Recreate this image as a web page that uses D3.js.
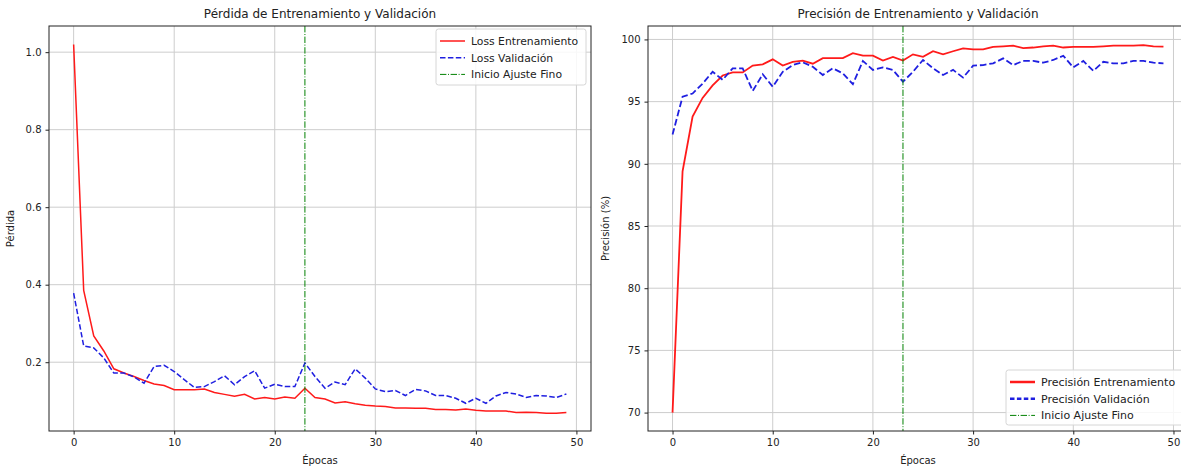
<!DOCTYPE html>
<html><head><meta charset="utf-8">
<script src="https://cdn.jsdelivr.net/npm/d3@7"></script>
<style>body{margin:0;background:#fff}svg{display:block;font-family:"DejaVu Sans",sans-serif}</style>
</head><body><svg id="c" width="1181" height="467"></svg>
<script>
const epochs = d3.range(0, 50);
const lossTrain = [1.02,0.385,0.268,0.229,0.183,0.172,0.163,0.153,0.144,0.140,0.129,0.129,0.129,0.131,0.122,0.117,0.112,0.117,0.105,0.109,0.105,0.110,0.107,0.133,0.109,0.105,0.095,0.098,0.093,0.089,0.087,0.086,0.082,0.082,0.081,0.081,0.078,0.078,0.077,0.079,0.076,0.074,0.074,0.074,0.070,0.071,0.070,0.068,0.068,0.070];
const lossVal = [0.378,0.242,0.237,0.211,0.172,0.172,0.162,0.146,0.189,0.192,0.176,0.155,0.135,0.137,0.150,0.165,0.142,0.163,0.178,0.133,0.143,0.137,0.137,0.198,0.163,0.133,0.149,0.142,0.183,0.159,0.131,0.124,0.127,0.114,0.130,0.126,0.114,0.114,0.107,0.094,0.107,0.094,0.113,0.122,0.118,0.109,0.114,0.113,0.109,0.118];
const accTrain = [70.0,89.4,93.8,95.3,96.3,97.1,97.35,97.35,97.9,98.0,98.4,97.9,98.2,98.3,98.05,98.5,98.5,98.5,98.9,98.7,98.7,98.3,98.6,98.3,98.8,98.6,99.05,98.8,99.05,99.28,99.2,99.2,99.4,99.45,99.5,99.3,99.35,99.45,99.5,99.35,99.4,99.4,99.4,99.45,99.5,99.5,99.5,99.55,99.45,99.42];
const accVal = [92.35,95.4,95.65,96.45,97.4,96.75,97.68,97.68,95.86,97.2,96.2,97.4,97.94,98.16,97.8,97.14,97.68,97.27,96.4,98.27,97.55,97.75,97.55,96.6,97.4,98.35,97.68,97.14,97.55,96.93,97.89,97.94,98.08,98.48,97.94,98.27,98.27,98.13,98.35,98.69,97.75,98.27,97.47,98.2,98.08,98.08,98.27,98.27,98.13,98.08];
const fineTuneEpoch = 23;
const xTicks = [0,10,20,30,40,50];
const lossTicks = [0.2,0.4,0.6,0.8,1.0];
const accTicks = [70,75,80,85,90,95,100];

const svg = d3.select("#c");
svg.append("rect").attr("width",1181).attr("height",467).attr("fill","#fff");

function panel(opt){
  const {x0,x1,y0,y1,ydom,yticks,yfmt,title,ylabel,ylabelX,trainData,valData,legend,lw,dash} = opt;
  const g = svg.append("g");
  const x = d3.scaleLinear().domain([-2.45,51.45]).range([x0,x1]);
  const y = d3.scaleLinear().domain(ydom).range([y1,y0]);
  const clipId = "clip"+x0;
  g.append("clipPath").attr("id",clipId).append("rect").attr("x",x0).attr("y",y0).attr("width",x1-x0).attr("height",y1-y0);
  const grid = g.append("g").attr("stroke","#cdcdcd").attr("stroke-width",1);
  xTicks.forEach(t=>grid.append("line").attr("x1",x(t)).attr("x2",x(t)).attr("y1",y0).attr("y2",y1));
  yticks.forEach(t=>grid.append("line").attr("x1",x0).attr("x2",x1).attr("y1",y(t)).attr("y2",y(t)));
  const plot = g.append("g").attr("clip-path",`url(#${clipId})`);
  const line = d3.line().x((d,i)=>x(epochs[i])).y(d=>y(d));
  plot.append("path").datum(trainData).attr("d",line).attr("fill","none").attr("stroke","#ff1a1a").attr("stroke-width",lw);
  plot.append("path").datum(valData).attr("d",line).attr("fill","none").attr("stroke","#1f1fe0").attr("stroke-width",lw).attr("stroke-dasharray",dash);
  plot.append("line").attr("x1",x(fineTuneEpoch)).attr("x2",x(fineTuneEpoch)).attr("y1",y0).attr("y2",y1)
    .attr("stroke","#008000").attr("stroke-width",1).attr("stroke-dasharray","6.4,1.6,1,1.6");
  const xa = g.append("g").attr("transform",`translate(0,${y1})`).call(d3.axisBottom(x).tickValues(xTicks).tickSize(3.5).tickPadding(4).tickFormat(d3.format("d")));
  const ya = g.append("g").attr("transform",`translate(${x0},0)`).call(d3.axisLeft(y).tickValues(yticks).tickSize(3.5).tickPadding(4).tickFormat(yfmt));
  [xa,ya].forEach(a=>{a.select(".domain").remove();a.selectAll("text").attr("font-size",10).attr("fill","#222").attr("font-family","DejaVu Sans");a.selectAll("line").attr("stroke","#222");});
  g.append("rect").attr("x",x0).attr("y",y0).attr("width",x1-x0).attr("height",y1-y0).attr("fill","none").attr("stroke","#222").attr("stroke-width",1);
  g.append("text").attr("x",(x0+x1)/2).attr("y",18).attr("text-anchor","middle").attr("font-size",12).attr("fill","#222").text(title);
  g.append("text").attr("x",(x0+x1)/2).attr("y",464).attr("text-anchor","middle").attr("font-size",10).attr("fill","#222").text("Épocas");
  g.append("text").attr("transform",`translate(${ylabelX},${(y0+y1)/2}) rotate(-90)`).attr("text-anchor","middle").attr("font-size",10).attr("fill","#222").text(ylabel);
  const L = legend;
  const lg = g.append("g");
  lg.append("rect").attr("x",L.x).attr("y",L.y).attr("width",L.w).attr("height",L.h).attr("rx",2.5)
    .attr("fill","#fff").attr("fill-opacity",0.85).attr("stroke","#d6d6d6");
  const items = [
    {label:L.labels[0],color:"#ff1a1a",dash:null,w:L.lw},
    {label:L.labels[1],color:"#1f1fe0",dash:L.dash,w:L.lw},
    {label:L.labels[2],color:"#008000",dash:"6.4,1.6,1,1.6",w:1}
  ];
  items.forEach((it,i)=>{
    const yy = L.y + 12 + i*16.7;
    lg.append("line").attr("x1",L.x+4).attr("x2",L.x+29).attr("y1",yy).attr("y2",yy)
      .attr("stroke",it.color).attr("stroke-width",it.w).attr("stroke-dasharray",it.dash);
    lg.append("text").attr("x",L.x+35).attr("y",yy+3.8).attr("font-size",L.fs).attr("fill","#222").text(it.label);
  });
}

panel({x0:49,x1:591,y0:26,y1:431,ydom:[0.0225,1.0675],yticks:lossTicks,yfmt:d3.format(".1f"),
  title:"Pérdida de Entrenamiento y Validación",ylabel:"Pérdida",ylabelX:14,
  trainData:lossTrain,valData:lossVal,lw:1.5,dash:"5.5,2.4",
  legend:{x:436,y:29,w:150,h:56,lw:1.5,dash:"5.5,2.4",fs:10.8,labels:["Loss Entrenamiento","Loss Validación","Inicio Ajuste Fino"]}});
panel({x0:648,x1:1188,y0:26,y1:431,ydom:[68.52,101.08],yticks:accTicks,yfmt:d3.format("d"),
  title:"Precisión de Entrenamiento y Validación",ylabel:"Precisión (%)",ylabelX:609,
  trainData:accTrain,valData:accVal,lw:1.8,dash:"6.6,2.9",
  legend:{x:1006,y:370,w:181,h:55,lw:2.5,dash:"4.5,2.4",fs:11,labels:["Precisión Entrenamiento","Precisión Validación","Inicio Ajuste Fino"]}});
</script></body></html>
